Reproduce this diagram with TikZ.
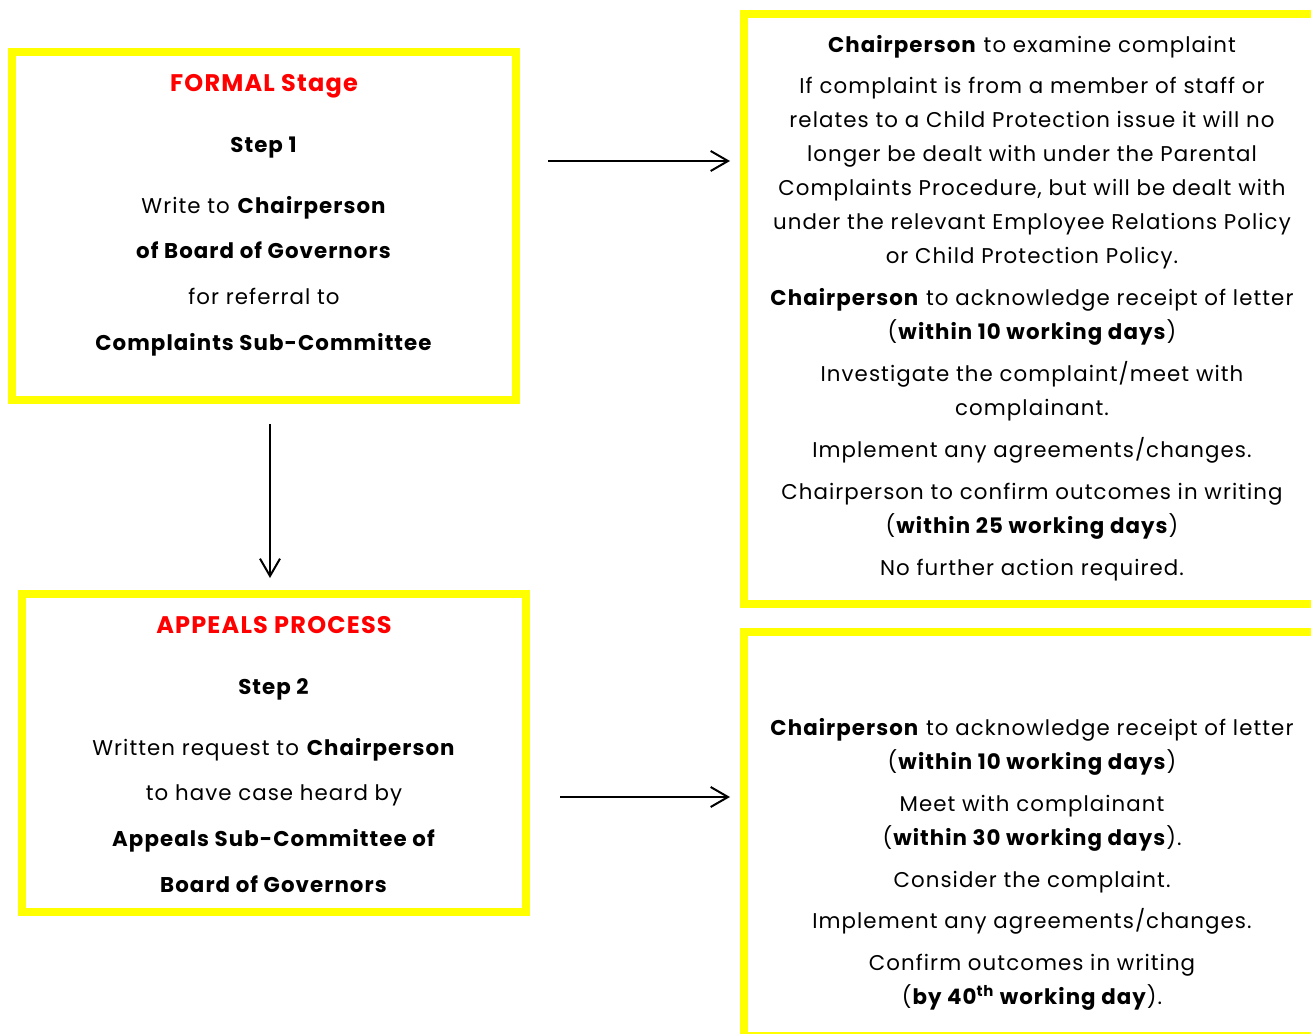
\documentclass[tikz,border=0pt]{standalone}
\usepackage{fontspec}
\setmainfont{Poppins}[LetterSpace=5]
\usepackage{xcolor}
\definecolor{lemon}{HTML}{FFFF00}
\definecolor{alarm}{HTML}{FF0000}
\newcommand\alarmRed[1]{{\color{alarm}#1}}
\usetikzlibrary{arrows.meta,positioning}
\tikzset{
    x=0.75pt, y=-0.75pt,
    flow/.style={-{Straight Barb[length=13pt,width=15pt]}, line width=1.5pt},
    frame/.style={rectangle, draw=lemon, line width=6pt, inner sep=0pt},
    steptext/.style={align=center, inner sep=0pt, font=\fontsize{16}{34.2}\selectfont},
    bodytext/.style={align=center, inner sep=0pt, font=\fontsize{16}{25.5}\selectfont}
}

\begin{document}
\begin{tikzpicture}
    \useasboundingbox (0,0) rectangle (1311,1034);

    % yellow frames
    \node[frame, minimum width=378pt, minimum height=261pt] (formal) at (264,226) {};
    \node[frame, minimum width=378pt, minimum height=238.5pt] (appeal) at (274,753) {};
    \node[frame, minimum width=432pt, minimum height=442.5pt] (examine) at (1032,309) {};
    \node[frame, minimum width=432pt, minimum height=303pt] (hearing) at (1032,834) {};

    % texts
    \node[steptext, below=19.5pt of formal.north] (formaltext) {%
        {\fontsize{18}{20}\selectfont\textbf{\alarmRed{FORMAL Stage}}}\\[12pt]
        \textbf{Step 1}\\[11pt]
        Write to \textbf{Chairperson}\\
        \textbf{of Board of Governors}\\
        for referral to\\
        \textbf{Complaints Sub-Committee}};
    \node[steptext, below=19.5pt of appeal.north] (appealtext) {%
        {\fontsize{18}{20}\selectfont\textbf{\alarmRed{APPEALS PROCESS}}}\\[12pt]
        \textbf{Step 2}\\[11pt]
        Written request to \textbf{Chairperson}\\
        to have case heard by\\
        \textbf{Appeals Sub-Committee of}\\
        \textbf{Board of Governors}};
    \node[bodytext, below=18.5pt of examine.north] (examinetext) {%
        \textbf{Chairperson} to examine complaint\\[5.9pt]
        If complaint is from a member of staff or\\
        relates to a Child Protection issue it will no\\
        longer be dealt with under the Parental\\
        Complaints Procedure, but will be dealt with\\
        under the relevant Employee Relations Policy\\
        or Child Protection Policy.\\[5.9pt]
        \textbf{Chairperson} to acknowledge receipt of letter\\
        (\textbf{within 10 working days})\\[5.9pt]
        Investigate the complaint/meet with\\
        complainant.\\[5.9pt]
        Implement any agreements/changes.\\[5.9pt]
        Chairperson to confirm outcomes in writing\\
        (\textbf{within 25 working days})\\[5.9pt]
        No further action required.};
    \node[bodytext, below=67.5pt of hearing.north] (hearingtext) {%
        \textbf{Chairperson} to acknowledge receipt of letter\\
        (\textbf{within 10 working days})\\[5.9pt]
        Meet with complainant\\
        (\textbf{within 30 working days}).\\[5.9pt]
        Consider the complaint.\\[5.9pt]
        Implement any agreements/changes.\\[5.9pt]
        Confirm outcomes in writing\\
        (\textbf{by 40\textsuperscript{th} working day}).};

    % arrows
    \draw[flow, shorten <=21pt, shorten >=7.5pt] (formal.east |- 0,161) -- (examine.west |- 0,161);
    \draw[flow, shorten <=15pt, shorten >=9pt] (formal.south -| 270,0) -- (appeal.north -| 270,0);
    \draw[flow, shorten <=22.5pt, shorten >=7.5pt] (appeal.east |- 0,797) -- (hearing.west |- 0,797);
\end{tikzpicture}
\end{document}
